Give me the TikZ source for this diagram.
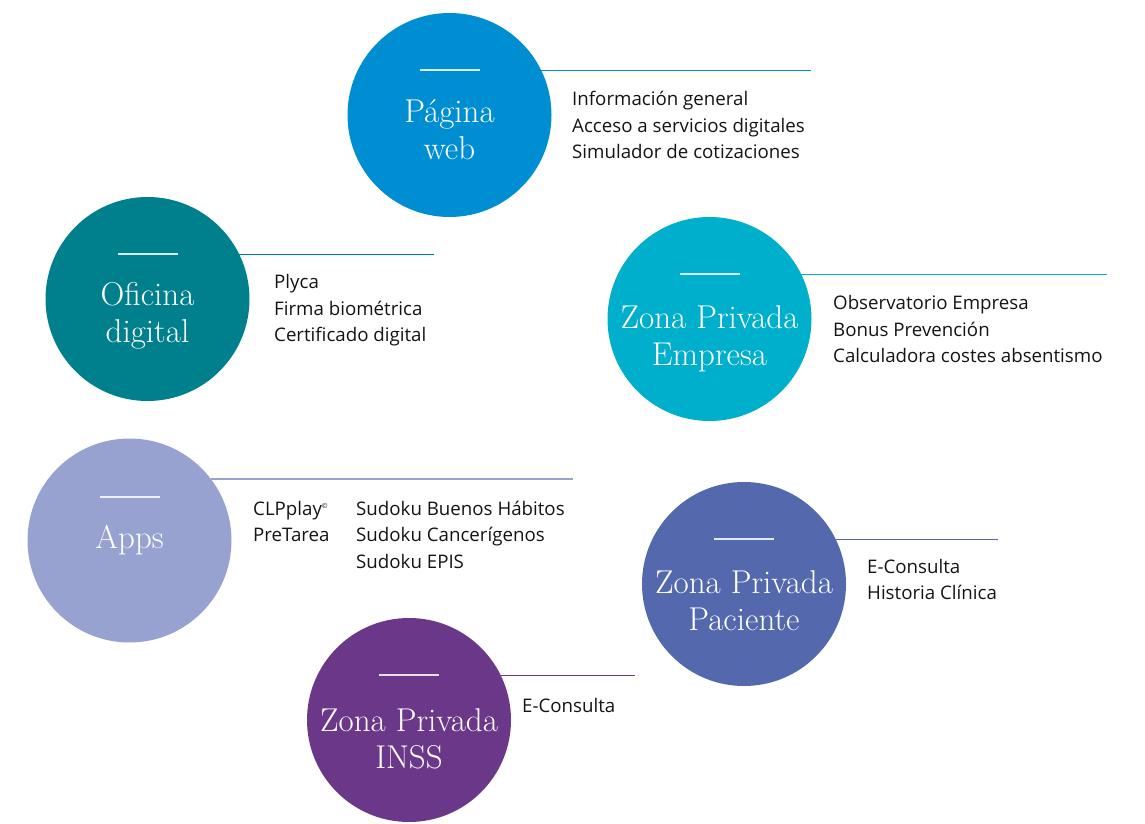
\documentclass[tikz,border=0pt]{standalone}
\usepackage{fontspec}
\newfontfamily\listfont{Open Sans}
\usetikzlibrary{positioning,calc}

\definecolor{webblue}{RGB}{0,142,210}
\definecolor{officeteal}{RGB}{0,127,140}
\definecolor{companycyan}{RGB}{0,175,203}
\definecolor{appslilac}{RGB}{152,162,209}
\definecolor{patientblue}{RGB}{84,104,174}
\definecolor{inssviolet}{RGB}{106,55,137}
\definecolor{listgray}{RGB}{20,20,20}

\tikzset{
  bubble/.style={circle,minimum size=204pt,inner sep=0pt},
  bubbletext/.style={text=white,align=center,inner sep=0pt,font={\fontsize{33}{37}\selectfont}},
  whitedash/.style={draw=white,line width=1.2pt,opacity=.85},
  leader/.style={line width=1.1pt},
  itemlist/.style={anchor=base west,align=left,text=listgray,inner sep=0pt,font={\listfont\fontsize{18.7}{26.5}\selectfont}}
}

\begin{document}
\begin{tikzpicture}[x=1pt,y=1pt]
\useasboundingbox (0,0) rectangle (1145,823);

% circles
\node[bubble,fill=webblue] (web) at (449.5,708) {};
\node[bubble,fill=officeteal] (oficina) at (147.5,524) {};
\node[bubble,fill=companycyan] (empresa) at (709.5,504) {};
\node[bubble,fill=appslilac] (apps) at (129.5,282.5) {};
\node[bubble,fill=patientblue] (paciente) at (744,239) {};
\node[bubble,fill=inssviolet] (inss) at (409,103) {};

% titles (base = last line)
\node[bubbletext,below=45pt of web.center,anchor=base] (webtitle) {Página\\web};
\node[bubbletext,below=44pt of oficina.center,anchor=base] (oficinatitle) {Oficina\\digital};
\node[bubbletext,below=47pt of empresa.center,anchor=base] (empresatitle) {Zona Privada\\Empresa};
\node[bubbletext,below=7.5pt of apps.center,anchor=base] (appstitle) {Apps};
\node[bubbletext,below=46pt of paciente.center,anchor=base] (pacientetitle) {Zona Privada\\Paciente};
\node[bubbletext,below=48pt of inss.center,anchor=base] (insstitle) {Zona Privada\\INSS};

% short white rules
\foreach \c in {web,oficina,empresa,paciente,inss}{
  \draw[whitedash] ($(\c.center)+(-30,45)$) -- ++(60,0);}
\draw[whitedash] ($(apps.center)+(-30,43.5)$) -- ++(60,0);

% leaders
\coordinate (webend) at (811,753);
\coordinate (oficinaend) at (434,570);
\coordinate (empresaend) at (1107,548);
\coordinate (appsend) at (573,344);
\coordinate (pacienteend) at (998,285);
\coordinate (inssend) at (635,145);
\draw[leader,webblue] (web.26) -- (web.26 -| webend);
\draw[leader,officeteal] (oficina.26) -- (oficina.26 -| oficinaend);
\draw[leader,companycyan] (empresa.26) -- (empresa.26 -| empresaend);
\draw[leader,appslilac] (apps.37) -- (apps.37 -| appsend);
\draw[leader,patientblue] (paciente.26) -- (paciente.26 -| pacienteend);
\draw[leader,inssviolet] (inss.26) -- (inss.26 -| inssend);

% lists (base = last line)
\node[itemlist] (weblist) at (572,664) {Información general\\Acceso a servicios digitales\\Simulador de cotizaciones};
\node[itemlist] (oficinalist) at (274,481) {Plyca\\Firma biométrica\\Certificado digital};
\node[itemlist] (empresalist) at (833,460) {Observatorio Empresa\\Bonus Prevención\\Calculadora costes absentismo};
\node[itemlist] (appslist) at (253,281.5) {CLPplay\textsuperscript{\scriptsize ©}\\PreTarea};
\node[itemlist] (sudokulist) at (356,255) {Sudoku Buenos Hábitos\\Sudoku Cancerígenos\\Sudoku EPIS};
\node[itemlist] (pacientelist) at (867,223.5) {E-Consulta\\Historia Clínica};
\node[itemlist] (insslist) at (522,111) {E-Consulta};
\end{tikzpicture}
\end{document}
